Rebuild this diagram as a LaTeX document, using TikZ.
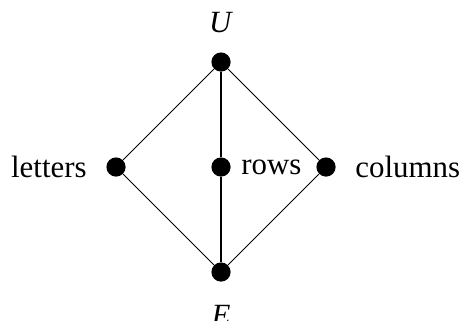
\documentclass[tikz,border=0pt]{standalone}
\usepackage{fontspec}
\setmainfont{Liberation Serif}
\usepackage{tikz}
\usetikzlibrary{positioning}
\tikzset{
  vertex/.style={circle, fill=black, draw=none, minimum size=9.6bp, inner sep=0pt},
  tag/.style={inner sep=0pt, font=\fontsize{15.5}{18}\selectfont},
  edge/.style={draw=black, line width=0.5bp},
  chain/.style={draw=black, line width=1.4bp}
}
\begin{document}
\begin{tikzpicture}[x=0.5bp, y=-0.5bp]
  \useasboundingbox (0,0) rectangle (464,320);

  \node[vertex, label={[tag, label distance=9.5bp]above:\textit{U}}] (top) at (221,62) {};
  \node[vertex, label={[tag, label distance=11.5bp]below:\textit{E}}] (bottom) at (221,272) {};
  \node[vertex, label={[tag, label distance=9.5bp]left:letters}] (letters) at (116,167) {};
  \node[vertex, label={[tag, label distance=5bp]right:rows}] (rows) at (221,167) {};
  \node[vertex, label={[tag, label distance=9.5bp]right:columns}] (columns) at (326,167) {};

  \draw[edge] (top) -- (letters);
  \draw[edge] (top) -- (columns);
  \draw[edge] (letters) -- (bottom);
  \draw[edge] (columns) -- (bottom);
  \draw[chain] (top) -- (rows);
  \draw[chain] (rows) -- (bottom);
\end{tikzpicture}
\end{document}
